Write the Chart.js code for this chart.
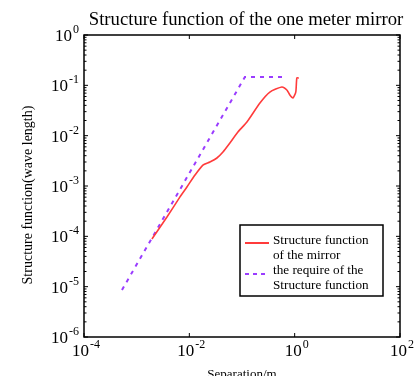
<!DOCTYPE html>
<html>
<head>
<meta charset="utf-8">
<script src="https://cdn.jsdelivr.net/npm/chart.js@4.4.1/dist/chart.umd.min.js"></script>
<style>
  html, body { margin: 0; padding: 0; background: #fff; }
  #wrap { width: 414px; height: 376px; }
</style>
</head>
<body>
<div id="wrap"><canvas id="sfChart" width="414" height="376"></canvas></div>
<script>
// measured structure function of the mirror
const mirrorSep = [0.00195, 0.00376, 0.0066, 0.0090, 0.0128, 0.0181, 0.0246, 0.0334, 0.0435, 0.0589, 0.0836, 0.124, 0.219, 0.338, 0.571, 0.711, 0.811, 0.925, 1.05, 1.10, 1.20]
const mirrorVal = [8.85e-5, 2.42e-4, 6.0e-4, 9.55e-4, 1.65e-3, 2.61e-3, 3.0e-3, 3.6e-3, 4.73e-3, 7.15e-3, 0.0118, 0.0187, 0.0446, 0.0736, 0.0927, 0.0807, 0.0643, 0.056, 0.0736, 0.140, 0.140]

// required structure function
const requireSep = [5.26e-4, 0.1135, 0.597]
const requireVal = [8.6e-6, 0.1465, 0.1465]

const xTicks = [1e-4, 1e-2, 1, 1e2]
const xTickExp = ['-4', '-2', '0', '2']
const yTicks = [1e-6, 1e-5, 1e-4, 1e-3, 1e-2, 1e-1, 1]
const yTickExp = ['-6', '-5', '-4', '-3', '-2', '-1', '0']

const titleText = 'Structure function of the one meter mirror'
const xTitle = 'Separation/m'
const yTitle = 'Structure function(wave length)'
const legendRows = [
    { color: '#ff3b3b', dash: [], lines: ['Structure function', 'of the mirror'] },
    { color: '#9a3cff', dash: [4, 4], lines: ['the require of the', 'Structure function'] }
]

const serif = '"Liberation Serif", "DejaVu Serif", serif'

function toPoints(xs, ys) {
    return xs.map((x, i) => ({ x: x, y: ys[i] }))
}

function drawPow(ctx, exp, x, y, align) {
    // "10" with superscript exponent
    ctx.font = '17px ' + serif
    const baseW = ctx.measureText('10').width
    ctx.font = '12px ' + serif
    const expW = ctx.measureText(exp).width
    const total = baseW + expW + 1
    let left = x
    if (align === 'center') left = x - total / 2
    if (align === 'right') left = x - total
    ctx.textAlign = 'left'
    ctx.textBaseline = 'alphabetic'
    ctx.font = '17px ' + serif
    ctx.fillText('10', left, y)
    ctx.font = '12px ' + serif
    ctx.fillText(exp, left + baseW + 1, y - 8)
}

const decorPlugin = {
    id: 'decor',
    afterDraw(chart) {
        const ctx = chart.ctx
        const area = chart.chartArea
        const xs = chart.scales.x
        const ys = chart.scales.y
        ctx.save()
        ctx.fillStyle = '#000'
        ctx.strokeStyle = '#000'

        // frame
        ctx.lineWidth = 1.5
        ctx.strokeRect(area.left, area.top, area.right - area.left, area.bottom - area.top)

        // ticks
        ctx.lineWidth = 1
        ctx.beginPath()
        xTicks.forEach(v => {
            const px = xs.getPixelForValue(v)
            ctx.moveTo(px, area.bottom); ctx.lineTo(px, area.bottom - 4)
            ctx.moveTo(px, area.top); ctx.lineTo(px, area.top + 4)
        })
        yTicks.forEach((v, i) => {
            const py = ys.getPixelForValue(v)
            ctx.moveTo(area.left, py); ctx.lineTo(area.left + 4, py)
            ctx.moveTo(area.right, py); ctx.lineTo(area.right - 4, py)
            if (i < yTicks.length - 1) {
                for (let m = 2; m <= 9; m++) {
                    const my = ys.getPixelForValue(v * m)
                    ctx.moveTo(area.left, my); ctx.lineTo(area.left + 2.5, my)
                    ctx.moveTo(area.right, my); ctx.lineTo(area.right - 2.5, my)
                }
            }
        })
        ctx.stroke()

        // tick labels
        xTicks.forEach((v, i) => {
            drawPow(ctx, xTickExp[i], xs.getPixelForValue(v) + 2, area.bottom + 19, 'center')
        })
        yTicks.forEach((v, i) => {
            drawPow(ctx, yTickExp[i], area.left - 5, ys.getPixelForValue(v) + 6, 'right')
        })

        // title
        ctx.font = '18.7px ' + serif
        ctx.textAlign = 'center'
        ctx.textBaseline = 'alphabetic'
        ctx.fillText(titleText, 246, 25)

        // axis titles
        ctx.font = '13px ' + serif
        ctx.fillText(xTitle, (area.left + area.right) / 2, 378)
        ctx.save()
        ctx.font = '14px ' + serif
        ctx.translate(32, 195)
        ctx.rotate(-Math.PI / 2)
        ctx.fillText(yTitle, 0, 0)
        ctx.restore()

        // legend
        const box = { left: 240, top: 225, right: 383, bottom: 296 }
        ctx.fillStyle = '#fff'
        ctx.fillRect(box.left, box.top, box.right - box.left, box.bottom - box.top)
        ctx.lineWidth = 1.5
        ctx.strokeStyle = '#000'
        ctx.strokeRect(box.left, box.top, box.right - box.left, box.bottom - box.top)
        ctx.font = '13.2px ' + serif
        ctx.textAlign = 'left'
        ctx.textBaseline = 'middle'
        let lineY = 241
        legendRows.forEach((row, r) => {
            const sampleY = r === 0 ? 243 : 274
            ctx.strokeStyle = row.color
            ctx.lineWidth = 2
            ctx.setLineDash(row.dash)
            ctx.beginPath()
            ctx.moveTo(245, sampleY)
            ctx.lineTo(269, sampleY)
            ctx.stroke()
            ctx.setLineDash([])
            ctx.fillStyle = '#000'
            row.lines.forEach((t, k) => {
                ctx.fillText(t, 273, lineY + k * 15)
            })
            lineY += 29.5
        })
        ctx.restore()
    }
}

new Chart(document.getElementById('sfChart'), {
    type: 'scatter',

    data: {
        datasets: [
            {
                label: 'Structure function of the mirror',
                data: toPoints(mirrorSep, mirrorVal),
                showLine: true,
                borderColor: '#ff3b3b',
                borderWidth: 1.6,
                pointRadius: 0,
                tension: 0.2
            },
            {
                label: 'the require of the Structure function',
                data: toPoints(requireSep, requireVal),
                showLine: true,
                borderColor: '#9a3cff',
                borderWidth: 2,
                borderDash: [4, 5],
                pointRadius: 0,
                tension: 0
            }
        ]
    },

    options: {
        responsive: false,
        animation: false,
        layout: {
            padding: { left: 84, top: 35, right: 14, bottom: 39 }
        },

        plugins: {
            legend: { display: false },
            title: { display: false },
            tooltip: { enabled: false }
        },

        scales: {
            x: {
                type: 'logarithmic',
                min: 1e-4,
                max: 1e2,
                grid: { display: false },
                border: { display: false },
                ticks: { display: false },
                afterFit: s => { s.height = 0 }
            },
            y: {
                type: 'logarithmic',
                min: 1e-6,
                max: 1,
                grid: { display: false },
                border: { display: false },
                ticks: { display: false },
                afterFit: s => { s.width = 0 }
            }
        }
    },

    plugins: [decorPlugin]
})
</script>
</body>
</html>
